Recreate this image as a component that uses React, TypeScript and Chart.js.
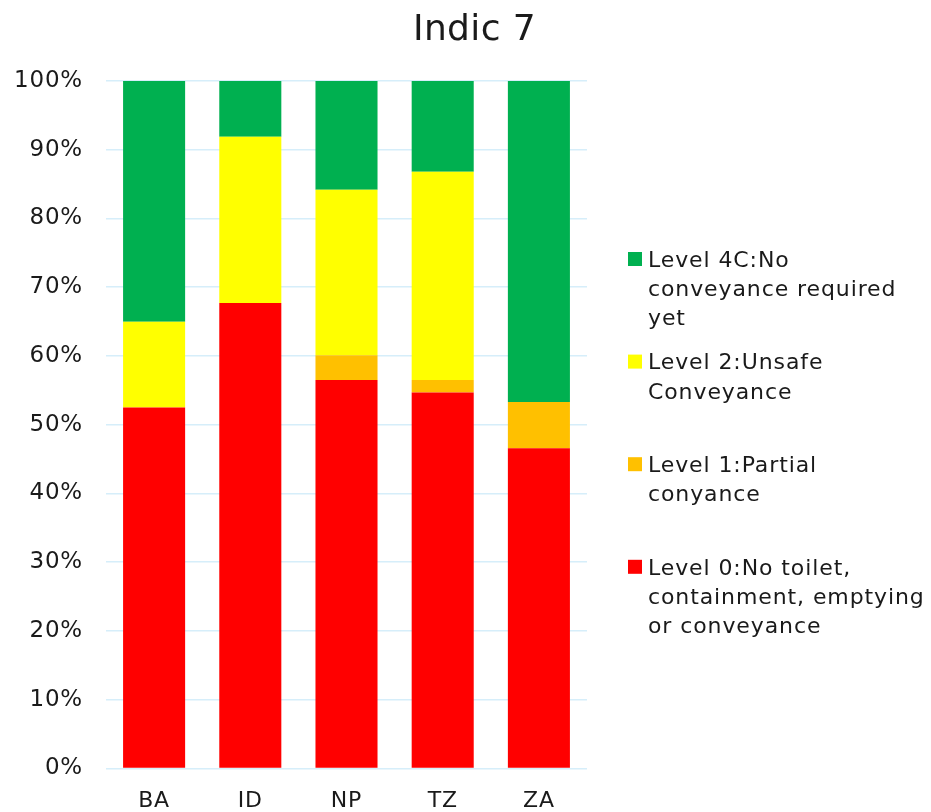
import React, { useEffect, useRef } from "react";
import { Chart, registerables } from "chart.js";

Chart.register(...registerables);

// Countries on the x axis
const categories = ["BA", "ID", "NP", "TZ", "ZA"];

// Share of households (%) at each conveyance level, stacked bottom to top
const level0 = [52.5, 67.7, 56.5, 54.7, 46.6];
const level1 = [0, 0, 3.6, 1.8, 6.7];
const level2 = [12.5, 24.2, 24.1, 30.3, 0];
const level4C = [35.0, 8.1, 15.8, 13.2, 46.7];

// Legend text, one array of lines per series
const level0Lines = ["Level 0:No toilet,", "containment, emptying", "or conveyance"];
const level1Lines = ["Level 1:Partial", "conyance"];
const level2Lines = ["Level 2:Unsafe", "Conveyance"];
const level4CLines = ["Level 4C:No", "conveyance required", "yet"];

const yTicks = [0, 10, 20, 30, 40, 50, 60, 70, 80, 90, 100];

const titleText = "Indic 7";

const FONT = "'DejaVu Sans', Verdana, sans-serif";
const TEXT_COLOR = "#1a1a1a";

// Slightly looser tracking for the axis labels
const spacingPlugin = {
  id: "spacing",
  beforeDraw(chart: any) {
    (chart.ctx as any).letterSpacing = "0.8px";
  },
};

// Title and the stacked-level legend (top series listed first)
const decorPlugin = {
  id: "decor",
  afterDraw(chart: any) {
    const ctx = chart.ctx as any;
    ctx.save();
    ctx.fillStyle = TEXT_COLOR;
    ctx.letterSpacing = "0.4px";
    ctx.font = `36px ${FONT}`;
    ctx.textAlign = "center";
    ctx.textBaseline = "alphabetic";
    ctx.fillText(titleText, 474.5, 39.5);

    const items = [...chart.data.datasets].reverse();
    ctx.font = `22px ${FONT}`;
    ctx.letterSpacing = "0.9px";
    ctx.textAlign = "left";
    items.forEach((ds: any, i: number) => {
      const base = 266.7 + i * 102.6;
      ctx.fillStyle = ds.backgroundColor;
      ctx.fillRect(628, base - 14.7, 14, 14);
      ctx.fillStyle = TEXT_COLOR;
      (ds.legendLines as string[]).forEach((line, j) => {
        ctx.fillText(line, 648, base + j * 29.3);
      });
    });
    ctx.restore();
  },
};

export default function App() {
  const ref = useRef<HTMLCanvasElement | null>(null);

  useEffect(() => {
    if (!ref.current) return;
    const mk = (lines: string[], data: number[], color: string) => ({
      label: lines.join(" "),
      legendLines: lines,
      data,
      backgroundColor: color,
      borderWidth: 0,
      barPercentage: 0.645,
      categoryPercentage: 1,
    });
    const chart = new Chart(ref.current, {
      type: "bar",
      data: {
        labels: categories,
        datasets: [
          mk(level0Lines, level0, "#FF0000"),
          mk(level1Lines, level1, "#FFC000"),
          mk(level2Lines, level2, "#FFFF00"),
          mk(level4CLines, level4C, "#00B050"),
        ] as any,
      },
      options: {
        responsive: false,
        animation: false,
        layout: { padding: { top: 81, right: 344, left: 0, bottom: 0 } },
        plugins: {
          legend: { display: false },
          title: { display: false },
          tooltip: { enabled: false },
        },
        scales: {
          x: {
            stacked: true,
            grid: { display: false, drawTicks: false },
            border: { display: false },
            ticks: {
              font: { family: FONT, size: 22 },
              color: TEXT_COLOR,
              padding: 20,
            },
            afterFit(scale: any) {
              scale.height = 43.5;
            },
          },
          y: {
            stacked: true,
            min: 0,
            max: 100,
            afterBuildTicks(scale: any) {
              scale.ticks = yTicks.map((v) => ({ value: v }));
            },
            grid: { color: "#D6EEFA", lineWidth: 1.6, drawTicks: false },
            border: { display: false },
            ticks: {
              font: { family: FONT, size: 23 },
              color: TEXT_COLOR,
              padding: 23,
              callback: (v: any) => `${v}%`,
            },
            afterFit(scale: any) {
              scale.width = 106;
            },
          },
        },
      },
      plugins: [spacingPlugin, decorPlugin],
    });
    return () => chart.destroy();
  }, []);

  return (
    <div style={{ position: "absolute", left: 0, top: 0, width: 931, height: 812, background: "#fff" }}>
      <canvas ref={ref} width={931} height={812} style={{ display: "block" }} />
    </div>
  );
}
